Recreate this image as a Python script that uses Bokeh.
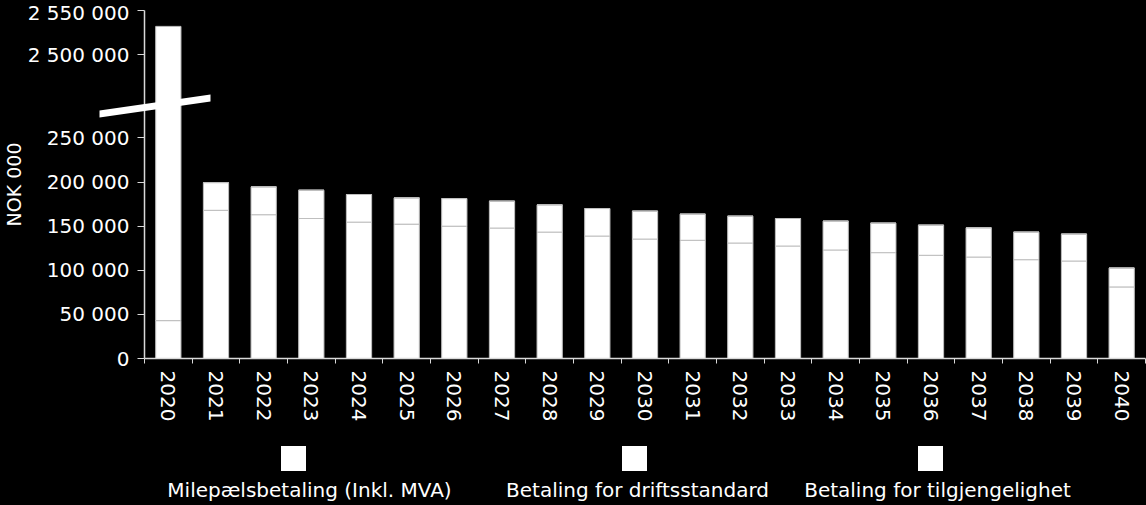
import numpy as np
from bokeh.plotting import figure
from bokeh.models import Range1d, FixedTicker, PolyAnnotation
from bokeh.core.properties import value
from bokeh.embed import file_html
from bokeh.resources import INLINE

# ---------------- data (NOK 000) ----------------
years = [str(y) for y in range(2020, 2041)]
tilgjengelighet = [43000, 168000, 163000, 158700, 154600, 152300, 150000, 147900, 143300, 138800,
                   135400, 134000, 130900, 127500, 123000, 120000, 117000, 115000, 112000, 110500, 81100]
driftsstandard = [0, 31400, 31600, 32100, 31300, 29800, 31300, 30500, 30900, 31200,
                  31700, 29700, 30500, 31200, 32800, 33500, 34200, 33200, 31300, 30600, 21500]
milepael = [2489000, 0, 0, 0, 0, 0, 0, 0, 0, 0,
            0, 0, 0, 0, 0, 0, 0, 0, 0, 0, 0]
legend_labels = ["Milepælsbetaling (Inkl. MVA)", "Betaling for driftsstandard", "Betaling for tilgjengelighet"]
y_ticks_real = [0, 50000, 100000, 150000, 200000, 250000, 2500000, 2550000]

# ---------------- broken axis transform ----------------
BREAK_AT = 300000
OFFSET = 2155500          # 2 500 000 is drawn at 344 500
Y_TOP = 2550000 - OFFSET  # top of the value axis


def brk(v):
    v = np.asarray(v, dtype=float)
    return np.where(v > BREAK_AT, v - OFFSET, v)


def fmt(v):
    return f"{v:,}".replace(",", " ")


x = np.arange(len(years))
n = len(years)
s1 = np.array(tilgjengelighet, dtype=float)
s2 = s1 + np.array(driftsstandard, dtype=float)
s3 = s2 + np.array(milepael, dtype=float)

FONT = "DejaVu Sans"
AX = "#d9d9d9"
BG = "#000000"

# ---------------- layout geometry (pixels) ----------------
W, H = 1146, 505
AXIS_X, PLOT_RIGHT = 144, 1145      # y axis position, last category boundary
AXIS_Y, PLOT_TOP = 358, 10          # value 0, value axis top
kx = (PLOT_RIGHT - AXIS_X) / n      # px per category
ky = (AXIS_Y - PLOT_TOP) / Y_TOP    # px per unit


def dx(px):
    return -0.5 + (px - AXIS_X) / kx


def dy(py):
    return (AXIS_Y - py) / ky


# the frame covers the whole canvas; axes are drawn at fixed locations inside it
p = figure(width=W, height=H,
           x_range=Range1d(dx(0), dx(W)), y_range=Range1d(dy(H), dy(0)),
           output_backend="svg", toolbar_location=None,
           background_fill_color=BG, border_fill_color=BG, outline_line_color=None,
           min_border=0)
p.grid.visible = False

bar_kw = dict(width=0.53, fill_color="white", line_color="#bfbfbf", line_width=1)
p.vbar(x=x, bottom=0, top=brk(s1), **bar_kw)
p.vbar(x=x, bottom=brk(s1), top=brk(s2), **bar_kw)
p.vbar(x=x, bottom=brk(s2), top=brk(s3), **bar_kw)

# x axis: labels at centres, ticks between categories
xa = p.xaxis[0]
xa.fixed_location = 0
xa.bounds = (-0.5, n - 0.5)
xa.ticker = FixedTicker(ticks=list(x), minor_ticks=[i - 0.5 for i in range(n + 1)])
xa.major_label_overrides = {int(i): years[i] for i in x}
xa.major_label_orientation = "vertical"
xa.major_tick_out = 0
xa.major_tick_in = 0
xa.minor_tick_out = 5
xa.minor_tick_in = 0
xa.minor_tick_line_color = AX
xa.axis_line_color = AX
xa.axis_line_width = 1.5
xa.major_label_standoff = 7
xa.major_label_text_font = FONT
xa.major_label_text_font_size = "20px"
xa.major_label_text_color = "white"

# y axis with break
plot_ticks = [float(brk(v)) for v in y_ticks_real]
ya = p.yaxis[0]
ya.fixed_location = -0.5
ya.bounds = (0, Y_TOP)
ya.ticker = FixedTicker(ticks=plot_ticks, minor_ticks=[])
ya.major_label_overrides = {t: fmt(v) for t, v in zip(plot_ticks, y_ticks_real)}
ya.major_tick_out = 7
ya.major_tick_in = 0
ya.major_tick_line_color = AX
ya.axis_line_color = AX
ya.axis_line_width = 1.5
ya.major_label_standoff = 8
ya.major_label_text_font = FONT
ya.major_label_text_font_size = "20px"
ya.major_label_text_color = "white"
ya.axis_label = "NOK 000"
ya.axis_label_text_font = FONT
ya.axis_label_text_font_size = "19px"
ya.axis_label_text_font_style = "normal"
ya.axis_label_text_color = "white"
ya.axis_label_standoff = 0

# break marker (decoration), corners given in pixels
brk_px = [(99, 110), (210, 94), (210, 101), (99, 117)]
p.add_layout(PolyAnnotation(xs=[dx(a) for a, b in brk_px], ys=[dy(b) for a, b in brk_px],
                            fill_color="white", fill_alpha=1.0, line_color=None))

# ---------------- legend (square above each label) ----------------
sq_px = [293, 634, 930]
tx_px = [309, 637, 937]
p.rect(x=[dx(v) for v in sq_px], y=[dy(458)] * 3, width=25 / kx, height=25 / ky,
       fill_color="white", line_color=None)
p.text(x=[dx(v) for v in tx_px], y=[dy(489)] * 3, text=legend_labels,
       text_align="center", text_baseline="alphabetic",
       text_font=value(FONT), text_font_size="20px", text_color="white")

html = file_html(p, INLINE)
html = html.replace("</head>", "<style>html,body{margin:0;background:#000000;}</style></head>", 1)
open("out.html", "w").write(html)
